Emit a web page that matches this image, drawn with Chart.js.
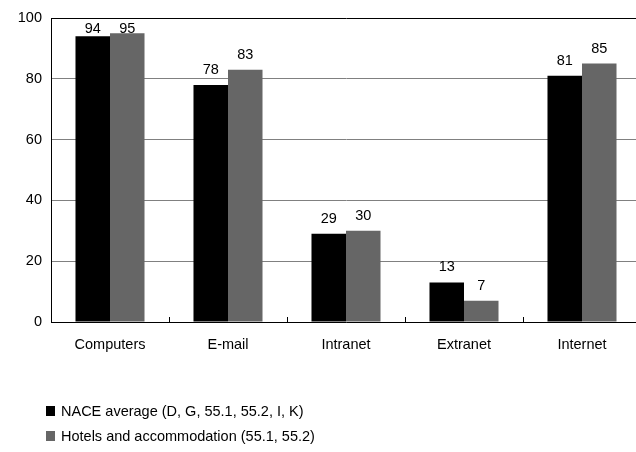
<!DOCTYPE html>
<html>
<head>
<meta charset="utf-8">
<script src="https://cdn.jsdelivr.net/npm/chart.js@4/dist/chart.umd.min.js"></script>
<style>
  html, body { margin: 0; padding: 0; background: #fff; overflow: hidden; width: 636px; height: 452px; }
  #wrap { position: absolute; left: 0; top: 0; width: 641px; height: 452px; }
  #legend { position: absolute; left: 46px; top: 398px; font-family: "Liberation Sans", Arial, sans-serif; font-size: 14.5px; color: #000; }
  .item { display: flex; align-items: center; height: 25.5px; white-space: nowrap; }
  .sw { width: 9px; height: 10px; margin-right: 6px; }
</style>
</head>
<body>
<div id="wrap"><canvas id="c" width="641" height="452"></canvas></div>
<div id="legend"></div>
<script>
const categories = ["Computers", "E-mail", "Intranet", "Extranet", "Internet"];
const seriesNames = ["NACE average (D, G, 55.1, 55.2, I, K)", "Hotels and accommodation (55.1, 55.2)"];
const naceValues = [94, 78, 29, 13, 81];
const hotelValues = [95, 83, 30, 7, 85];
const seriesColors = ["#000000", "#666666"];
const yTicks = [0, 20, 40, 60, 80, 100];

const FONT = "'Liberation Sans', Arial, sans-serif";

const valueLabels = {
  id: 'valueLabels',
  afterDatasetsDraw(chart) {
    const ctx = chart.ctx;
    ctx.save();
    ctx.font = "14.5px " + FONT;
    ctx.fillStyle = "#000";
    ctx.textAlign = "center";
    ctx.textBaseline = "alphabetic";
    chart.data.datasets.forEach((ds, di) => {
      const meta = chart.getDatasetMeta(di);
      meta.data.forEach((el, i) => {
        const y = Math.max(el.y - 11, chart.chartArea.top + 15);
        ctx.fillText(String(ds.data[i]), el.x, y);
      });
    });
    ctx.restore();
  }
};

// inward tick marks at the category boundaries of the x axis
const innerTicks = {
  id: 'innerTicks',
  afterDraw(chart) {
    const xs = chart.scales.x;
    const ctx = chart.ctx;
    const n = chart.data.labels.length;
    const bottom = chart.chartArea.bottom;
    ctx.save();
    ctx.strokeStyle = '#000';
    ctx.lineWidth = 1;
    ctx.beginPath();
    for (let i = 0; i < n - 1; i++) {
      const x = Math.round((xs.getPixelForValue(i) + xs.getPixelForValue(i + 1)) / 2) + 0.5;
      ctx.moveTo(x, bottom);
      ctx.lineTo(x, bottom - 5);
    }
    ctx.stroke();
    ctx.restore();
  }
};

new Chart(document.getElementById('c'), {
  type: 'bar',
  data: {
    labels: categories,
    datasets: [
      { label: seriesNames[0], data: naceValues, backgroundColor: seriesColors[0], borderWidth: 0 },
      { label: seriesNames[1], data: hotelValues, backgroundColor: seriesColors[1], borderWidth: 0 }
    ]
  },
  options: {
    responsive: false,
    animation: false,
    devicePixelRatio: 1,
    layout: { padding: { top: 18, bottom: 90, left: 0, right: 0 } },
    datasets: { bar: { barPercentage: 1.0, categoryPercentage: 0.585 } },
    plugins: { legend: { display: false }, tooltip: { enabled: false } },
    scales: {
      x: {
        grid: { display: false, drawTicks: false },
        border: { display: true, color: '#000', width: 1 },
        ticks: { color: '#000', font: { family: FONT, size: 14.5 }, padding: 14, maxRotation: 0 },
        afterFit(scale) { scale.height = 40; }
      },
      y: {
        min: 0, max: 100,
        afterBuildTicks(scale) { scale.ticks = yTicks.map(v => ({ value: v })); },
        grid: {
          drawTicks: false,
          color: (c) => (c.tick && c.tick.value === 100) ? '#000' : '#808080',
          lineWidth: 1
        },
        border: { display: true, color: '#000', width: 1 },
        ticks: { color: '#000', font: { family: FONT, size: 14.5 }, padding: 9 },
        afterFit(scale) { scale.width = 51; }
      }
    }
  },
  plugins: [valueLabels, innerTicks]
});

const leg = document.getElementById('legend');
seriesNames.forEach((name, i) => {
  const item = document.createElement('div');
  item.className = 'item';
  const sw = document.createElement('span');
  sw.className = 'sw';
  sw.style.background = seriesColors[i];
  const tx = document.createElement('span');
  tx.textContent = name;
  item.appendChild(sw);
  item.appendChild(tx);
  leg.appendChild(item);
});
</script>
</body>
</html>
